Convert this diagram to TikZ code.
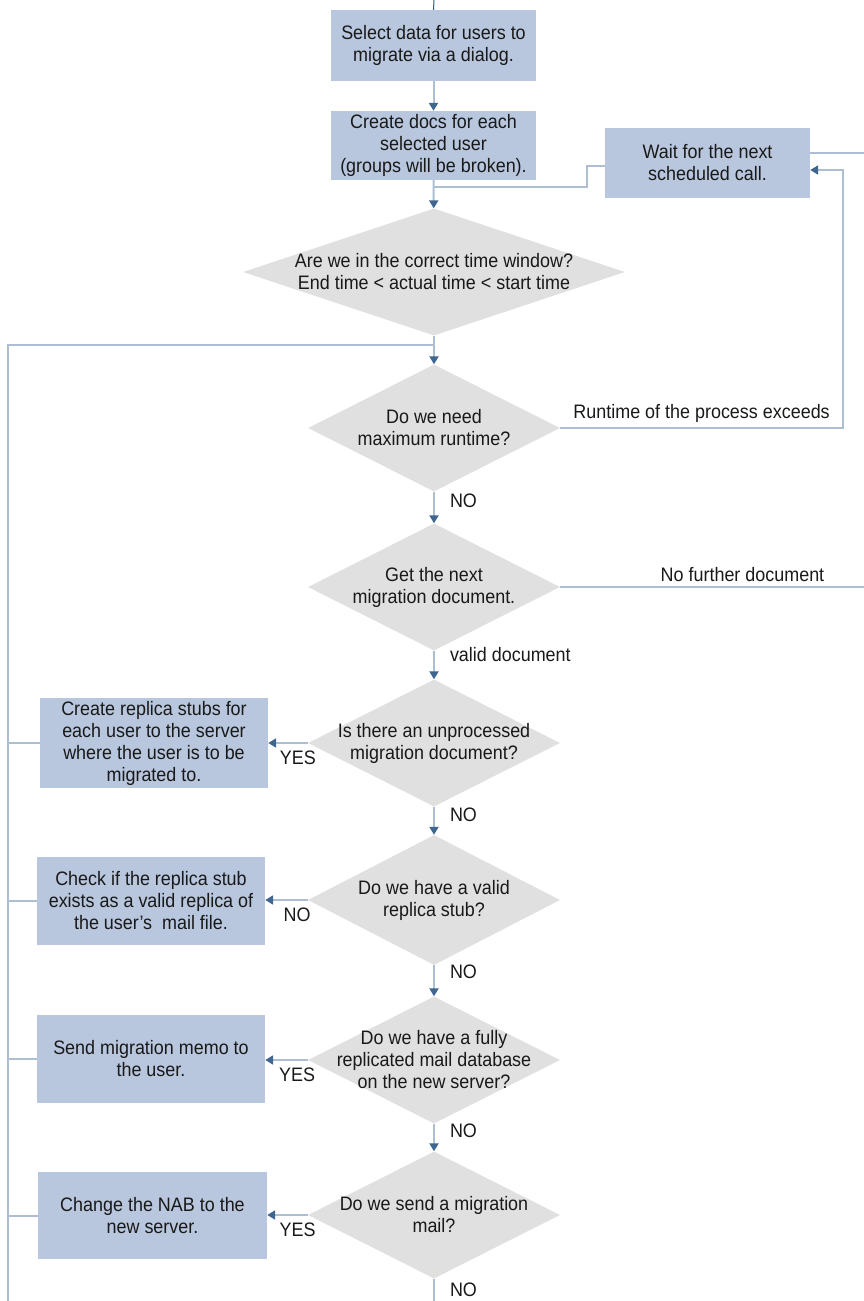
\documentclass[tikz,border=0pt]{standalone}
\usepackage{fontspec}
\setmainfont{Liberation Sans}[FakeStretch=0.92]
\usetikzlibrary{shapes.geometric}
\usetikzlibrary{arrows.meta}

\definecolor{boxblue}{RGB}{184,199,221}
\definecolor{diagray}{RGB}{224,224,224}
\definecolor{flowline}{RGB}{172,190,210}
\definecolor{tipblue}{RGB}{62,102,142}
\definecolor{topblue}{RGB}{40,85,165}
\definecolor{txt}{RGB}{25,25,25}

\tikzset{
  procbox/.style={rectangle,fill=boxblue,inner sep=0pt,align=center,text=txt,font=\fontsize{19.5}{22}\selectfont},
  decision/.style={diamond,fill=diagray,inner sep=0pt,minimum width=252pt,minimum height=127pt},
  dtext/.style={align=center,text=txt,font=\fontsize{19.5}{22}\selectfont},
  flow/.style={draw=flowline,line width=2pt},
  arr/.style={flow,-{Triangle[length=8pt,width=9pt,color=tipblue]}},
  lbl/.style={text=txt,font=\fontsize{19.5}{22}\selectfont,inner sep=1pt},
  downlbl/.style={lbl,right=14pt},
  leftlbl/.style={lbl,below=6pt,pos=0.25},
}

\begin{document}
\begin{tikzpicture}[x=1pt,y=-1pt]
\useasboundingbox (0,0) rectangle (864,1301);

\node[procbox,minimum width=205pt,minimum height=71pt] (sel) at (433.5,45.5) {Select data for users to\\migrate via a dialog.};
\node[procbox,minimum width=205pt,minimum height=69pt] (docs) at (433.5,145.5) {Create docs for each\\selected user\\(groups will be broken).};
\node[procbox,minimum width=205pt,minimum height=70pt] (wait) at (707.5,163) {Wait for the next\\scheduled call.};

\node[decision,minimum width=382pt] (window) at (434,272) {};
\node[dtext] at (window) {Are we in the correct time window?\\End time < actual time < start time};
\node[decision] (runtime) at (434,428) {};
\node[dtext] at (runtime) {Do we need\\maximum runtime?};
\node[decision] (nextdoc) at (434,587) {};
\node[dtext] at (nextdoc) {Get the next\\migration document.};
\node[decision] (unproc) at (434,743) {};
\node[dtext] at (unproc) {Is there an unprocessed\\migration document?};
\node[decision,minimum height=130pt] (stub) at (434,900) {};
\node[dtext] at (stub) {Do we have a valid\\replica stub?};
\node[decision] (full) at (434,1060) {};
\node[dtext] at (full) {Do we have a fully\\replicated mail database\\on the new server?};
\node[decision] (sendmail) at (434,1215) {};
\node[dtext] at (sendmail) {Do we send a migration\\mail?};

\node[procbox,minimum width=228pt,minimum height=90pt] (replica) at (154,743) {Create replica stubs for\\each user to the server\\where the user is to be\\migrated to.};
\node[procbox,minimum width=228pt,minimum height=88pt] (check) at (151,901) {Check if the replica stub\\exists as a valid replica of\\the user's\ \ mail file.};
\node[procbox,minimum width=228pt,minimum height=88pt] (memo) at (151,1059) {Send migration memo to\\the user.};
\node[procbox,minimum width=229pt,minimum height=87pt] (nab) at (152.5,1215.5) {Change the NAB to the\\new server.};

\coordinate (entry) at (434,0);
\coordinate (loop) at (434,345);
\coordinate (lft) at (8,345);
\coordinate (lftend) at (8,1301);
\coordinate (rt) at (843,428);
\coordinate (bend) at (587,187);
\coordinate (bendtop) at (587,166);
\coordinate (waitout) at (864,153);
\coordinate (docend) at (864,587);

\draw[topblue,line width=1pt] (entry) -- (sel.north);
\draw[arr] (sel) -- (docs);
\draw[arr] (docs) -- (window);
\draw[flow] (docs.south |- bend) -- (bend) -- (bendtop) -- (bendtop -| wait.west);
\draw[flow] (waitout -| wait.east) -- (waitout);

\draw[arr] (window) -- (runtime);
\draw[flow] (loop) -- (lft) -- (lftend);
\draw[arr] (runtime.east) -- node[lbl,above=3pt] {Runtime of the process exceeds} (rt) |- ([yshift=-7pt]wait.east);
\draw[arr] (runtime) -- node[downlbl,pos=0.3] {NO} (nextdoc);

\draw[flow] (nextdoc.east) -- node[lbl,above=3pt,pos=0.6] {No further document} (docend);
\draw[arr] (nextdoc) -- node[downlbl,pos=0.15] {valid document} (unproc);

\draw[arr] (unproc) -- node[leftlbl] {YES} (replica);
\draw[arr] (unproc) -- node[downlbl,pos=0.28] {NO} (stub);
\draw[arr] (stub.west) -- node[leftlbl] {NO} (stub.west -| check.east);
\draw[arr] (stub) -- node[downlbl,pos=0.22] {NO} (full);
\draw[arr] (full.west) -- node[leftlbl] {YES} (full.west -| memo.east);
\draw[arr] (full) -- node[downlbl,pos=0.25] {NO} (sendmail);
\draw[arr] (sendmail.west) -- node[leftlbl] {YES} (sendmail.west -| nab.east);
\draw[flow] (sendmail) -- node[downlbl,pos=0.5] {NO} (sendmail.south |- lftend);

\draw[flow] (replica.west) -- (replica.west -| lft);
\draw[flow] (check.west) -- (check.west -| lft);
\draw[flow] (memo.west) -- (memo.west -| lft);
\draw[flow] (nab.west) -- (nab.west -| lft);

\end{tikzpicture}
\end{document}
